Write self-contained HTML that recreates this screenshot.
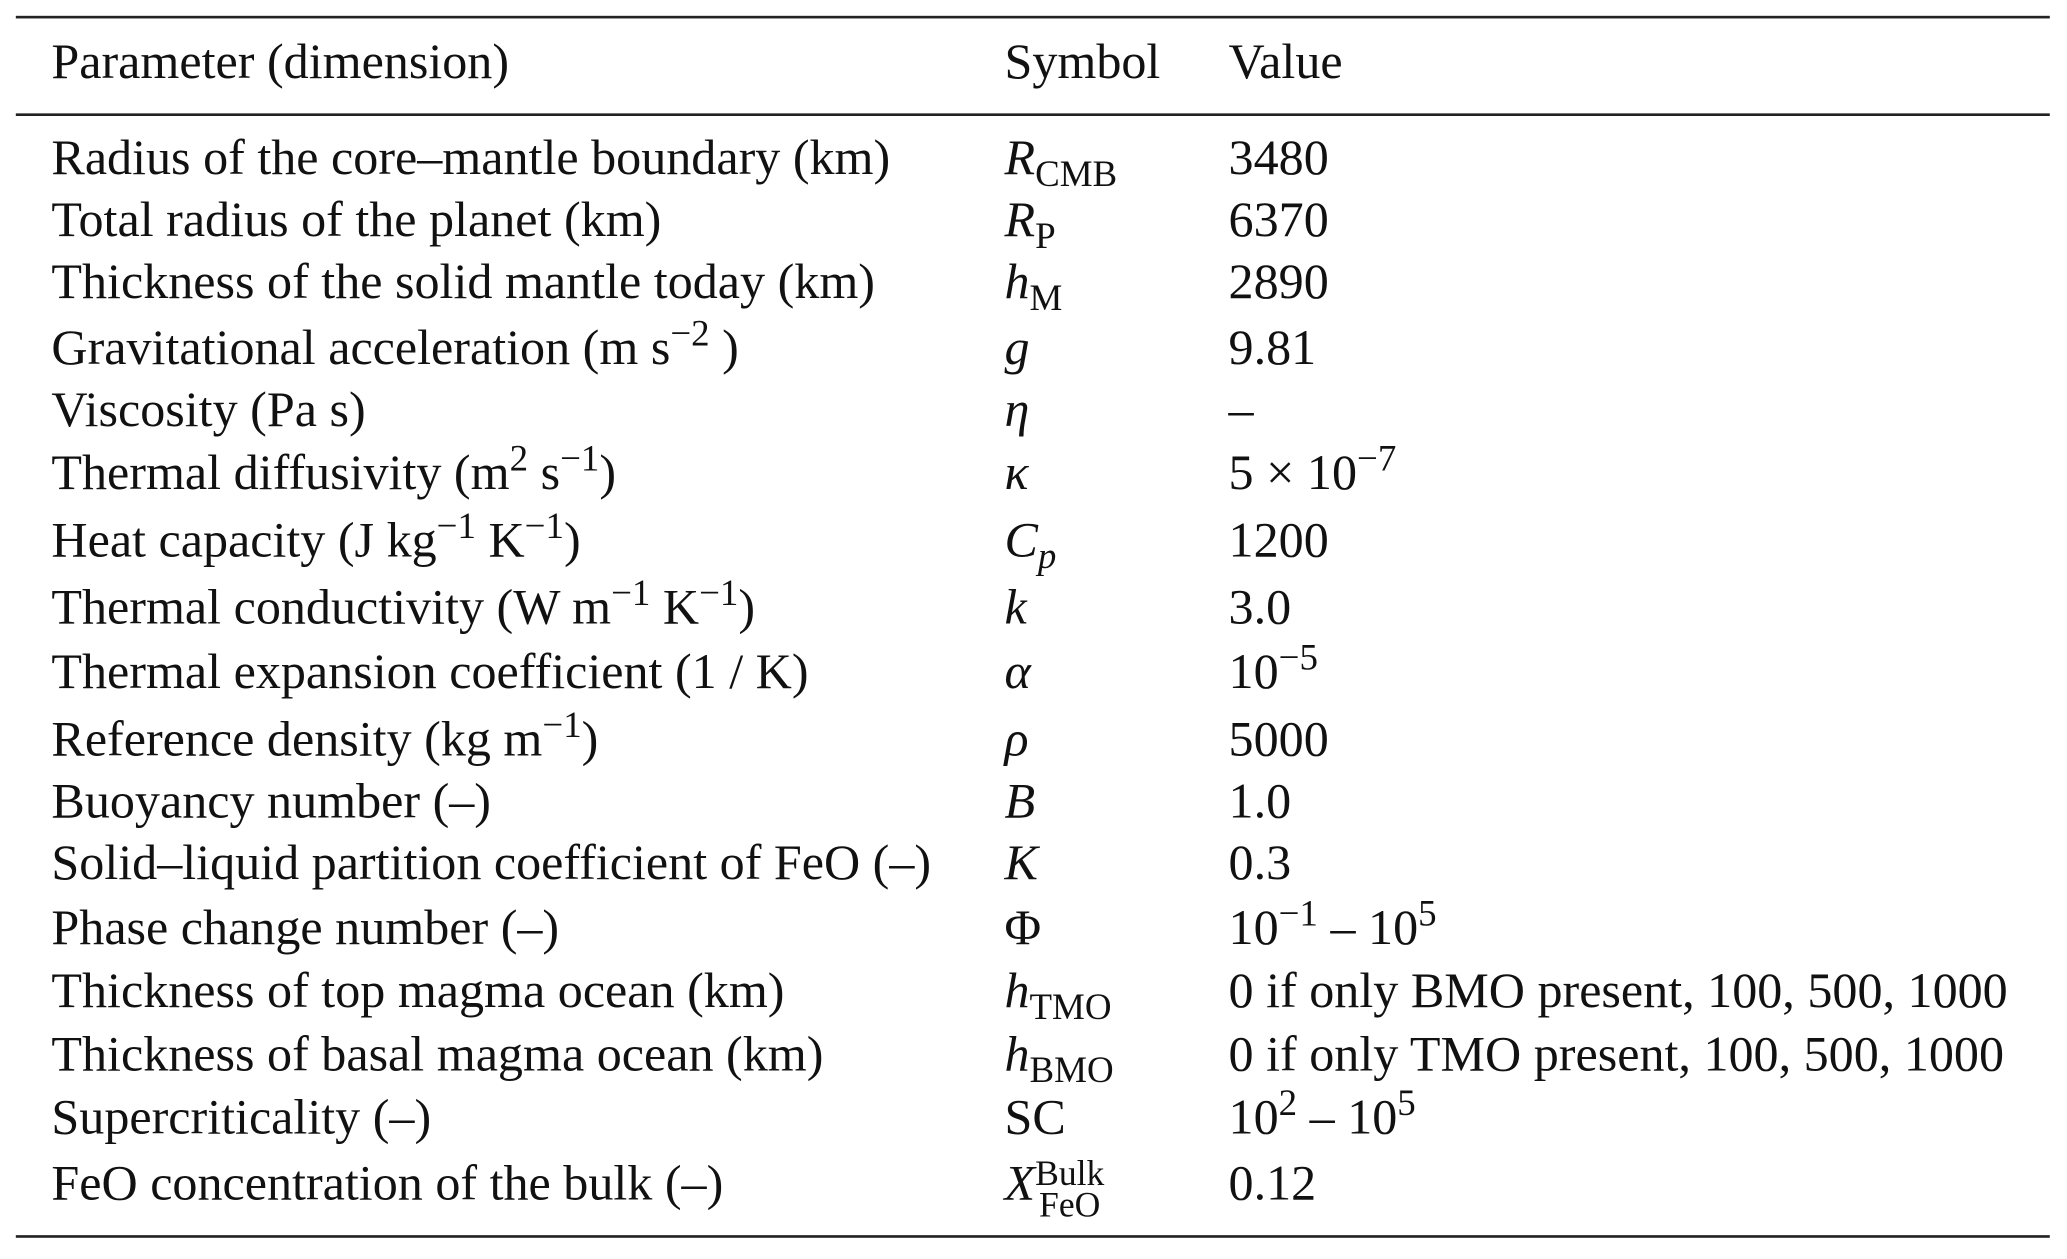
<!DOCTYPE html>
<html><head><meta charset="utf-8"><style>
html,body{margin:0;padding:0;background:#fff;overflow:hidden;width:2067px;height:1258px}
#wrap{position:absolute;left:0;top:0;width:1568px;height:955px;transform:scale(1.3182);transform-origin:0 0;font-family:"Liberation Serif",serif;font-size:38px;color:#111}
.rule{position:absolute;left:12px;width:1543px;height:2px;background:#222}
.row{position:absolute;left:0;width:1568px;height:40px;line-height:40px;white-space:nowrap}
.row span{position:absolute;top:0}
.c1{left:39px}.c2{left:762px}.c3{left:932px}
i{font-style:italic}
sub{font-size:28px;vertical-align:-9px;line-height:0}
sup{font-size:28px;vertical-align:14px;line-height:0}
.ss{display:inline-block;vertical-align:-15px;line-height:24px;font-size:27px;text-align:center}
</style></head><body>
<div id="wrap">
<div class="rule" style="top:12px"></div>
<div class="row" style="top:27px"><span class="c1">Parameter (dimension)</span><span class="c2">Symbol</span><span class="c3">Value</span></div>
<div class="rule" style="top:86px"></div>
<div class="row" style="top:100px"><span class="c1">Radius of the core–mantle boundary (km)</span><span class="c2"><i>R</i><sub>CMB</sub></span><span class="c3">3480</span></div>
<div class="row" style="top:147px"><span class="c1">Total radius of the planet (km)</span><span class="c2"><i>R</i><sub>P</sub></span><span class="c3">6370</span></div>
<div class="row" style="top:194px"><span class="c1">Thickness of the solid mantle today (km)</span><span class="c2"><i>h</i><sub>M</sub></span><span class="c3">2890</span></div>
<div class="row" style="top:244px"><span class="c1">Gravitational acceleration (m s<sup>−2</sup> )</span><span class="c2"><i>g</i></span><span class="c3">9.81</span></div>
<div class="row" style="top:291px"><span class="c1">Viscosity (Pa s)</span><span class="c2"><i>η</i></span><span class="c3">–</span></div>
<div class="row" style="top:339px"><span class="c1">Thermal diffusivity (m<sup>2</sup> s<sup>−1</sup>)</span><span class="c2"><i>κ</i></span><span class="c3">5 × 10<sup>−7</sup></span></div>
<div class="row" style="top:390px"><span class="c1">Heat capacity (J kg<sup>−1</sup> K<sup>−1</sup>)</span><span class="c2"><i>C</i><sub><i>p</i></sub></span><span class="c3">1200</span></div>
<div class="row" style="top:441px"><span class="c1">Thermal conductivity (W m<sup>−1</sup> K<sup>−1</sup>)</span><span class="c2"><i>k</i></span><span class="c3">3.0</span></div>
<div class="row" style="top:490px"><span class="c1">Thermal expansion coefficient (1 / K)</span><span class="c2"><i>α</i></span><span class="c3">10<sup>−5</sup></span></div>
<div class="row" style="top:541px"><span class="c1">Reference density (kg m<sup>−1</sup>)</span><span class="c2"><i>ρ</i></span><span class="c3">5000</span></div>
<div class="row" style="top:588px"><span class="c1">Buoyancy number (–)</span><span class="c2"><i>B</i></span><span class="c3">1.0</span></div>
<div class="row" style="top:635px"><span class="c1">Solid–liquid partition coefficient of FeO (–)</span><span class="c2"><i>K</i></span><span class="c3">0.3</span></div>
<div class="row" style="top:684px"><span class="c1">Phase change number (–)</span><span class="c2">Φ</span><span class="c3">10<sup>−1</sup> – 10<sup>5</sup></span></div>
<div class="row" style="top:732px"><span class="c1">Thickness of top magma ocean (km)</span><span class="c2"><i>h</i><sub>TMO</sub></span><span class="c3">0 if only BMO present, 100, 500, 1000</span></div>
<div class="row" style="top:780px"><span class="c1">Thickness of basal magma ocean (km)</span><span class="c2"><i>h</i><sub>BMO</sub></span><span class="c3">0 if only TMO present, 100, 500, 1000</span></div>
<div class="row" style="top:828px"><span class="c1">Supercriticality (–)</span><span class="c2">SC</span><span class="c3">10<sup>2</sup> – 10<sup>5</sup></span></div>
<div class="row" style="top:878px"><span class="c1">FeO concentration of the bulk (–)</span><span class="c2"><i>X</i><span class="ss">Bulk<br>FeO</span></span><span class="c3">0.12</span></div>
<div class="rule" style="top:937px"></div>
</div>
</body></html>
